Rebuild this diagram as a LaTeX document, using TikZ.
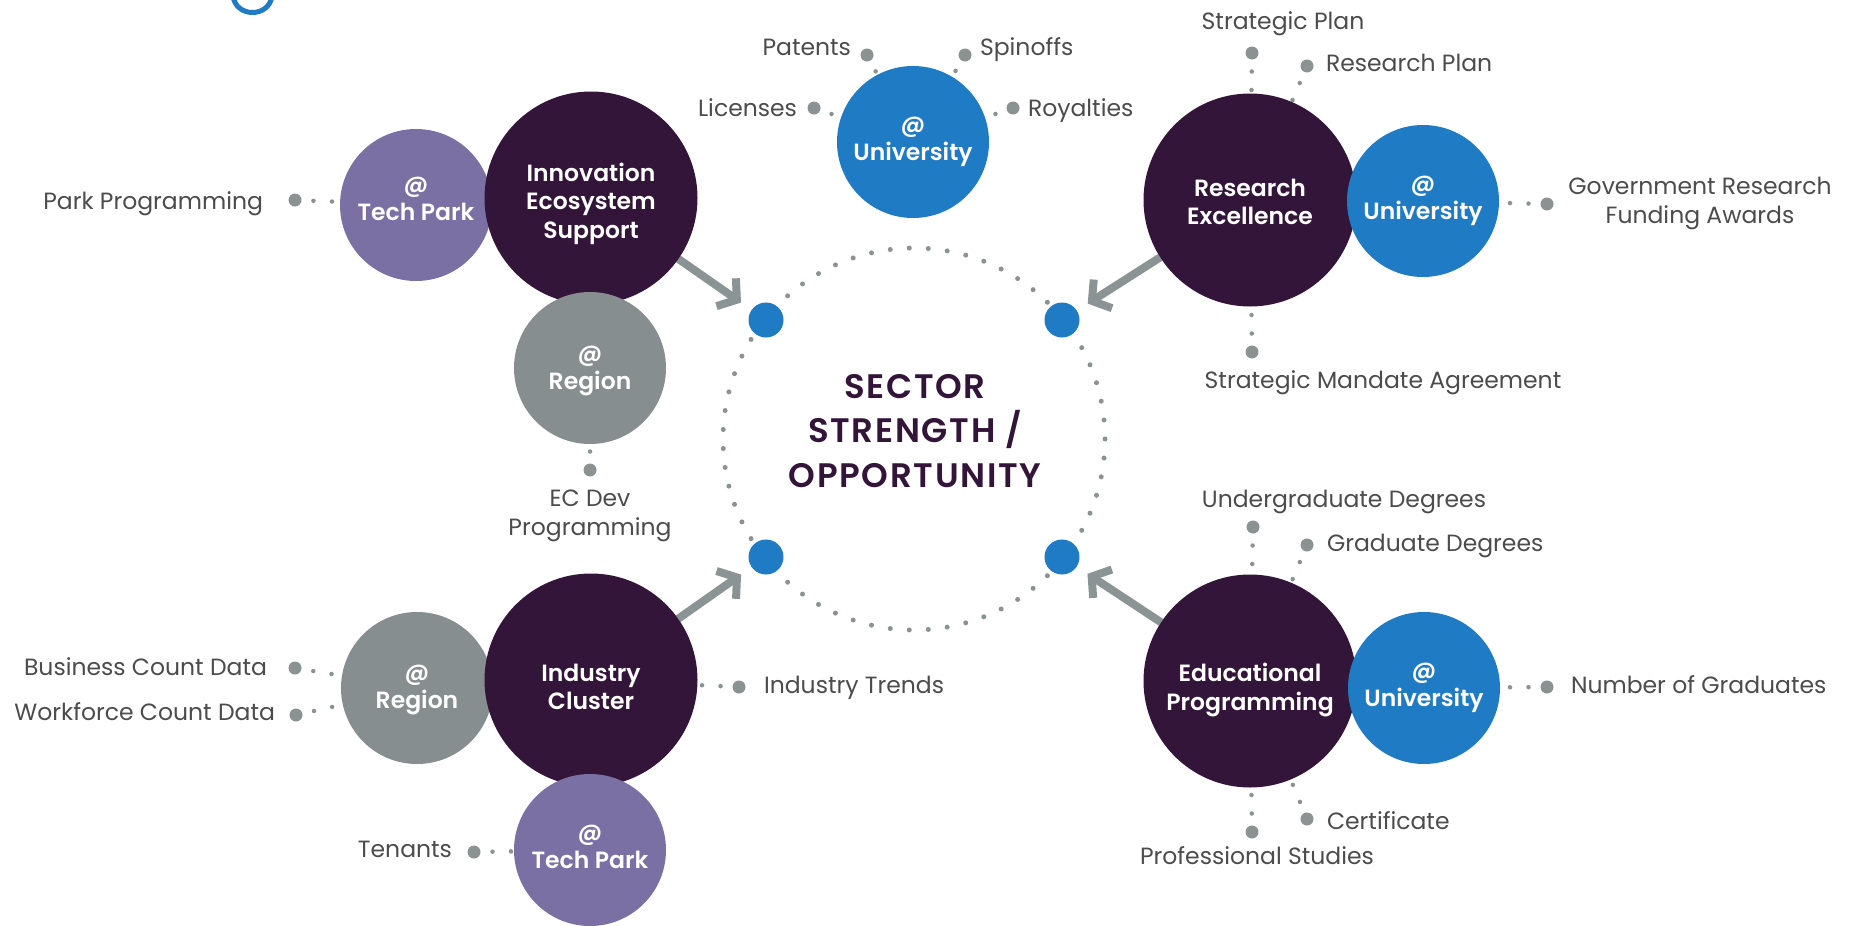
\documentclass[tikz,border=0pt]{standalone}
\usepackage{fontspec}
\setmainfont{Poppins}
\newfontfamily\semib{Poppins SemiBold}
\newfontfamily\semibwide{Poppins SemiBold}[LetterSpace=5]
\usetikzlibrary{arrows.meta,backgrounds}
\definecolor{darkp}{HTML}{331539}
\definecolor{tpark}{HTML}{7B70A3}
\definecolor{regiong}{HTML}{878E8F}
\definecolor{univ}{HTML}{1F7BC3}
\definecolor{dotg}{HTML}{8A9292}
\definecolor{lbl}{HTML}{4C4C4C}
\definecolor{arrowg}{HTML}{8A9494}
\begin{document}
\begin{tikzpicture}[x=1pt,y=-1pt,
  circbase/.style={circle,inner sep=0pt,outer sep=0pt},
  ctext/.style={inner sep=0pt,outer sep=0pt,text=white,align=center,
    font=\semib\fontsize{23.5}{28.5}\selectfont},
  darkc/.style={circbase,fill=darkp,minimum size=213pt},
  tparkc/.style={circbase,fill=tpark,minimum size=152pt},
  regc/.style={circbase,fill=regiong,minimum size=152pt},
  univc/.style={circbase,fill=univ,minimum size=152pt},
  bluedot/.style={circle,fill=univ,inner sep=0pt,outer sep=0pt,minimum size=35pt},
  bigdot/.style={circle,fill=dotg,inner sep=0pt,outer sep=0pt,minimum size=13pt},
  lab/.style={inner sep=0pt,outer sep=0pt,text=lbl,font=\fontsize{23.5}{29}\selectfont,align=center},
  dotconn/.style={dotg,line width=4.5pt,line cap=round,dash pattern=on 0pt off 18.5pt,dash phase=6.5pt},
  bigarrow/.style={arrowg,line width=8pt,-{Straight Barb[length=13pt,width=34pt]},shorten >=13pt}
]
\useasboundingbox (0,0) rectangle (1858,926);
\begin{scope}[on background layer]
  \fill[white] (0,0) rectangle (1858,926);
  % fragment of a clipped title letter
  \draw[univ,line width=5pt] (233,-4) .. controls (236,18) and (269,18) .. (272,-4);
  % dotted central ring
  \foreach \i in {0,...,62} {
    \fill[dotg,shift={(914,439)}] ({\i*5.7142857}:191) circle (2.5);
  }
\end{scope}

% ---------- circles ----------
\node[tparkc] (techTL) at (416,205) {};
\node[darkc] (innov) at (591,198) {};
\node[regc] (regT) at (590,368) {};
\node[univc] (univTop) at (913,142) {};
\node[darkc] (research) at (1250,200) {};
\node[univc] (univR) at (1423,201) {};
\node[darkc] (educ) at (1250,681) {};
\node[univc] (univR2) at (1424,688) {};
\node[regc] (regBL) at (417,688) {};
\node[darkc] (industry) at (591,680) {};
\node[tparkc] (techB) at (590,850) {};

% ---------- circle texts ----------
\node[ctext,yshift=6pt] (techTLt) at (techTL.center) {@\\Tech Park};
\node[ctext,yshift=-5.5pt] (innovt) at (innov.center) {Innovation\\Ecosystem\\Support};
\node[ctext,yshift=-3pt] (regTt) at (regT.center) {@\\Region};
\node[ctext] (univTopt) at (univTop.center) {@\\University};
\node[ctext,yshift=-2pt] (researcht) at (research.center) {Research\\Excellence};
\node[ctext] (univRt) at (univR.center) {@\\University};
\node[ctext,yshift=-9pt] (educt) at (educ.center) {Educational\\Programming};
\node[ctext] (univR2t) at (univR2.center) {@\\University};
\node[ctext,yshift=-2pt] (regBLt) at (regBL.center) {@\\Region};
\node[ctext,yshift=-7pt] (industryt) at (industry.center) {Industry\\Cluster};
\node[ctext,yshift=3pt] (techBt) at (techB.center) {@\\Tech Park};

% ---------- centre ----------
\node[font=\semibwide\fontsize{34}{44.5}\selectfont,text=darkp,align=center,inner sep=0pt] (sector) at (915,431) {SECTOR\\STRENGTH /\\OPPORTUNITY};
\node[bluedot] (bTL) at (766,320) {};
\node[bluedot] (bTR) at (1062,320) {};
\node[bluedot] (bBL) at (766,557) {};
\node[bluedot] (bBR) at (1062,557) {};

% ---------- label dots ----------
\node[bigdot] (dPark) at (295,200) {};
\node[bigdot] (dEC) at (590,470) {};
\node[bigdot] (dPatents) at (867,55) {};
\node[bigdot] (dSpin) at (965,55) {};
\node[bigdot] (dLic) at (814,108) {};
\node[bigdot] (dRoy) at (1013,108) {};
\node[bigdot] (dStratPlan) at (1252,53) {};
\node[bigdot] (dResPlan) at (1307,66) {};
\node[bigdot] (dGov) at (1547,204) {};
\node[bigdot] (dSMA) at (1252,352) {};
\node[bigdot] (dUnder) at (1253,527) {};
\node[bigdot] (dGrad) at (1307,545) {};
\node[bigdot] (dNum) at (1547,687) {};
\node[bigdot] (dCert) at (1307,819) {};
\node[bigdot] (dProf) at (1252,832) {};
\node[bigdot] (dBus) at (295,668) {};
\node[bigdot] (dWork) at (296,715) {};
\node[bigdot] (dTrends) at (739,687) {};
\node[bigdot] (dTen) at (474,852) {};

% ---------- labels ----------
\node[lab,anchor=base east] (lPark) at (263,209) {Park Programming};
\node[lab] (lEC) at (590,516) {EC Dev\\Programming};
\node[lab,anchor=base east] (lPatents) at (851,55) {Patents};
\node[lab,anchor=base west] (lSpin) at (980,55) {Spinoffs};
\node[lab,anchor=base east] (lLic) at (797,116) {Licenses};
\node[lab,anchor=base west] (lRoy) at (1028,116) {Royalties};
\node[lab,anchor=base] (lStratPlan) at (1283,29) {Strategic Plan};
\node[lab,anchor=base west] (lResPlan) at (1326,71) {Research Plan};
\node[lab] (lGov) at (1700,203) {Government Research\\Funding Awards};
\node[lab,anchor=base] (lSMA) at (1383,388) {Strategic Mandate Agreement};
\node[lab,anchor=base] (lUnder) at (1344,507) {Undergraduate Degrees};
\node[lab,anchor=base west] (lGrad) at (1327,551) {Graduate Degrees};
\node[lab,anchor=base west] (lNum) at (1571,693) {Number of Graduates};
\node[lab,anchor=base west] (lCert) at (1327,829) {Certificate};
\node[lab,anchor=base] (lProf) at (1257,864) {Professional Studies};
\node[lab,anchor=base east] (lBus) at (267,675) {Business Count Data};
\node[lab,anchor=base east] (lWork) at (275,720) {Workforce Count Data};
\node[lab,anchor=base west] (lTrends) at (764,693) {Industry Trends};
\node[lab,anchor=base east] (lTen) at (452,857) {Tenants};

% ---------- connectors ----------
\begin{scope}[on background layer]
  \draw[dotconn] (dPark) -- (techTL);
  \draw[dotconn] (dEC) -- (regT);
  \draw[dotconn] (dPatents) -- (univTop);
  \draw[dotconn] (dSpin) -- (univTop);
  \draw[dotconn] (dLic) -- (univTop);
  \draw[dotconn] (dRoy) -- (univTop);
  \draw[dotconn] (dStratPlan) -- (research);
  \draw[dotconn] (dResPlan) -- (research);
  \draw[dotconn] (dSMA) -- (research);
  \draw[dotconn] (dGov) -- (univR);
  \draw[dotconn] (dUnder) -- (educ);
  \draw[dotconn] (dGrad) -- (educ);
  \draw[dotconn] (dCert) -- (educ);
  \draw[dotconn] (dProf) -- (educ);
  \draw[dotconn] (dNum) -- (univR2);
  \draw[dotconn] (dBus) -- (regBL);
  \draw[dotconn] (dWork) -- (regBL);
  \draw[dotconn] (dTrends) -- (industry);
  \draw[dotconn] (dTen) -- (techB);
  \draw[bigarrow] (innov) -- (bTL);
  \draw[bigarrow] (research) -- (bTR);
  \draw[bigarrow] (industry) -- (bBL);
  \draw[bigarrow] (educ) -- (bBR);
\end{scope}
\end{tikzpicture}
\end{document}
